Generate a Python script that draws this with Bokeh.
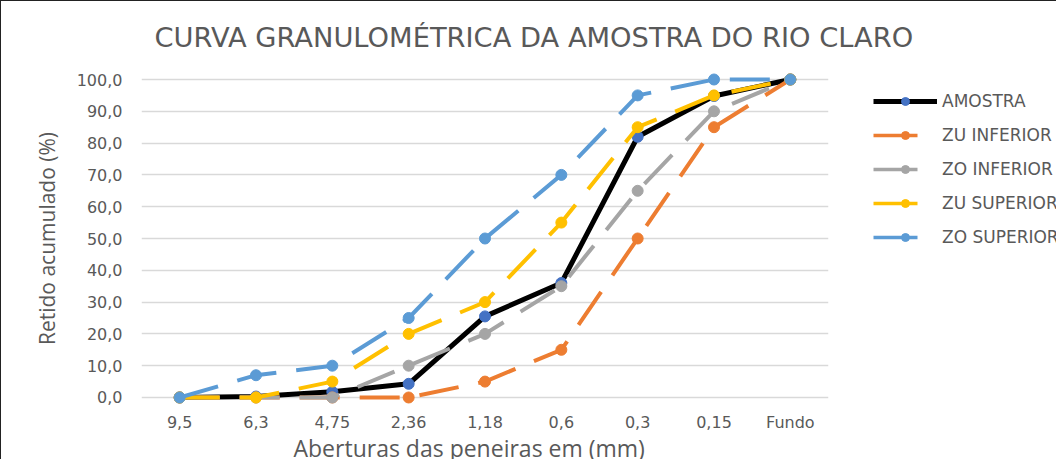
from bokeh.plotting import figure
from bokeh.models import Legend, LegendItem, FixedTicker, Title, ColumnDataSource, CDSView, IndexFilter
from bokeh.embed import file_html
from bokeh.resources import INLINE

categories = ["9,5", "6,3", "4,75", "2,36", "1,18", "0,6", "0,3", "0,15", "Fundo"]
amostra = [0.0, 0.3, 1.8, 4.3, 25.5, 36.0, 82.0, 94.8, 100.0]
zu_inferior = [0, 0, 0, 0, 5, 15, 50, 85, 100]
zo_inferior = [0, 0, 0, 10, 20, 35, 65, 90, 100]
zu_superior = [0, 0, 5, 20, 30, 55, 85, 95, 100]
zo_superior = [0, 7, 10, 25, 50, 70, 95, 100, 100]
y_ticks = [0, 10, 20, 30, 40, 50, 60, 70, 80, 90, 100]
y_tick_labels = ["0,0", "10,0", "20,0", "30,0", "40,0", "50,0", "60,0", "70,0", "80,0", "90,0", "100,0"]

FONT = "Open Sans"
TFONT = "DejaVu Sans"
GRAY = "#595959"

p = figure(frame_width=687, frame_height=344, x_range=categories, y_range=(-4.09, 104.09),
           output_backend="svg", toolbar_location=None,
           min_border_left=140, min_border_right=227, min_border_top=65, min_border_bottom=0)
p.styles = {"border-left": "1.5px solid #222", "border-top": "1.5px solid #222"}

p.title = Title(text="CURVA GRANULOMÉTRICA DA AMOSTRA DO RIO CLARO", align="left",
                text_font=TFONT, text_font_size="27.3px", text_font_style="normal",
                text_color=GRAY, offset=13, standoff=28)

p.outline_line_color = None
p.xgrid.grid_line_color = None
p.ygrid.grid_line_color = "#d9d9d9"
p.ygrid.grid_line_width = 1.3
p.yaxis.ticker = FixedTicker(ticks=y_ticks)
p.yaxis.major_label_overrides = {t: l for t, l in zip(y_ticks, y_tick_labels)}
for ax in (p.xaxis[0], p.yaxis[0]):
    ax.axis_line_color = None
    ax.major_tick_line_color = None
    ax.minor_tick_line_color = None
    ax.major_tick_out = 0
    ax.minor_tick_out = 0
    ax.major_label_text_font = TFONT
    ax.major_label_text_font_size = "16px"
    ax.major_label_text_color = GRAY
    ax.axis_label_text_font = FONT
    ax.axis_label_text_font_style = "normal"
    ax.axis_label_text_color = GRAY
p.yaxis.axis_label = "Retido acumulado (%)"
p.yaxis.axis_label_text_font_size = "21px"
p.yaxis.major_label_standoff = 19
p.yaxis.axis_label_standoff = 13
p.xaxis.major_label_standoff = 2

xlabel = Title(text="Aberturas das peneiras em (mm)", align="left", text_font=FONT,
               text_font_size="23px", text_font_style="normal", text_color=GRAY,
               offset=152, standoff=-9)
p.add_layout(xlabel, "below")

series = [
    ("ZU INFERIOR", zu_inferior, "#ED7D31"),
    ("ZO INFERIOR", zo_inferior, "#A5A5A5"),
    ("ZU SUPERIOR", zu_superior, "#FFC000"),
    ("ZO SUPERIOR", zo_superior, "#5B9BD5"),
]
items = {}

# AMOSTRA first so the limit curves are drawn above it
la = p.line(categories, amostra, line_color="black", line_width=5)
sa = p.scatter(categories, amostra, size=11, fill_color="#4472C4", line_color="#4472C4")
items["AMOSTRA"] = [la, sa]

for name, vals, c in series:
    src = ColumnDataSource(data=dict(x=categories, y=vals))
    p.line("x", "y", source=src, line_color=c, line_width=4, line_dash="40 20")
    s = p.scatter("x", "y", source=src, size=11, fill_color=c, line_color=c)
    # legend swatch: one short solid dash (single-point view draws nothing in the plot)
    gl = p.line("x", "y", source=src, view=CDSView(filter=IndexFilter([0])),
                line_color=c, line_width=3.5, line_dash="44 100")
    items[name] = [gl, s]

order = ["AMOSTRA", "ZU INFERIOR", "ZO INFERIOR", "ZU SUPERIOR", "ZO SUPERIOR"]
legend = Legend(items=[LegendItem(label=n, renderers=items[n]) for n in order],
                location=(45, 163), border_line_color=None, background_fill_alpha=0,
                padding=0, margin=0, spacing=14, glyph_width=64, glyph_height=20,
                label_height=20, label_standoff=5, label_text_font=TFONT,
                label_text_font_size="17px", label_text_color=GRAY)
p.add_layout(legend, "right")

open("out.html", "w").write(file_html(p, INLINE))
